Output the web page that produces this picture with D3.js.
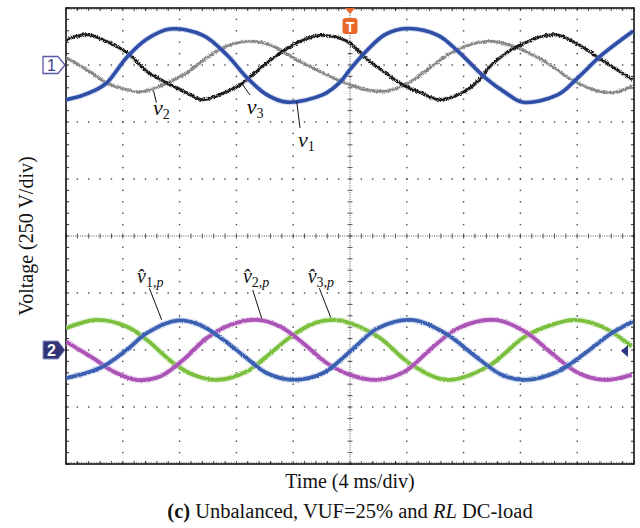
<!DOCTYPE html>
<html><head><meta charset="utf-8">
<script src="https://cdn.jsdelivr.net/npm/d3@7"></script>
<style>
html,body{margin:0;padding:0;background:#fff;}
svg{display:block;}
</style></head>
<body>
<script>
// ---- Data (time in ms, voltage in V relative to channel ground) ----
const timeDiv = 4;    // ms/div
const voltDiv = 250;  // V/div
const ch1Offset = 750;   // channel 1 ground (V on screen scale)
const ch2Offset = -500;  // channel 2 ground

const v1T = [0,0.99,1.90,2.87,4.27,5.68,7.32,9.65,11.32,12.73,14.13,15.54,18.10,19.30,20.0,21.06,22.46,23.99,26.20,27.61,29.51,30.92,32.18,34.65,36.06,37.75,39.93];
const v1V = [-152,-137,-115,-78,33,113,158,130,45,-55,-130,-163,-130,-75,-20,55,133,160,130,60,-55,-120,-163,-130,-55,45,148];

const v3T = [0,1.46,2.6,4.3,5.7,7.1,8.5,9.6,10.8,12.3,13.7,15.1,16.5,17.9,19.8,21.1,22.5,23.9,25.0,26.3,28.1,29.0,30.0,31.8,34.4,36.1,37.5,39.9];
const v3V = [111,133,111,54,-28,-79,-122,-152,-130,-86,-13,53,104,130,104,31,-35,-93,-122,-152,-115,-71,2,82,133,89,31,-64];

const v2T = [0,1.46,2.87,4.27,5.21,6.62,8.5,9.9,11.3,13.2,14.6,16.0,17.4,18.8,20.0,21.1,22.5,23.9,25.3,26.7,28.1,30.0,31.8,33.7,35.6,37.5,38.5,39.9];
const v2V = [31,-20,-79,-108,-118,-93,-35,31,82,104,82,31,-13,-57,-86,-108,-115,-86,-28,38,82,104,75,16,-64,-115,-121,-93];

const p1T = [0,2.39,4.27,5.68,7.80,9.44,11.08,12.73,14.13,16.01,18.12,20.0,21.97,24.34,26.69,29.01,30.68,32.32,34.65,36.55,38.43,39.93];
const p1V = [-123,-79,0,74,129,110,45,-36,-101,-131,-101,-7,96,132,74,-36,-109,-131,-94,-14,74,125];

const p2T = [0,1.92,3.33,4.98,6.62,8.26,9.91,11.55,13.43,15.07,16.71,18.36,20.0,21.97,23.87,25.75,27.63,30.21,32.32,34.20,36.08,37.96,39.84];
const p2V = [37,-36,-94,-131,-116,-43,52,110,132,103,30,-57,-109,-131,-94,8,96,132,81,-14,-101,-131,-109];

const p3T = [0,2.16,4.27,5.68,7.56,8.96,10.61,12.73,14.13,16.01,17.65,18.82,19.65,21.97,24.34,26.90,29.72,32.32,34.20,35.85,37.96,39.84];
const p3V = [96,132,103,45,-57,-109,-131,-94,-28,67,121,132,125,59,-65,-131,-72,59,110,132,96,15];

const xTitle = "Time (4 ms/div)";
const yTitle = "Voltage (250 V/div)";

// annotation anchors in data units (ms, V rel. channel ground)
const topLabels = [
  {sub:"2", t:6.13, v:-219, line:[[6.37,-165],[6.16,-113]]},
  {sub:"3", t:12.73, v:-215, line:[[12.96,-132],[12.37,-80]]},
  {sub:"1", t:16.34, v:-360, line:[[16.48,-276],[16.25,-162]]}
];
const botLabels = [
  {sub:"1,p", t:5.0, v:294, line:[[5.87,271],[6.74,132]]},
  {sub:"2,p", t:12.46, v:294, line:[[13.15,263],[13.78,139]]},
  {sub:"3,p", t:17.02, v:294, line:[[17.84,271],[18.64,143]]}
];

// ---- Layout ----
const W = 640, H = 528;
const L = 66, R = 634, T = 8, B = 464;
const svg = d3.select("body").append("svg").attr("width", W).attr("height", H);

const x = d3.scaleLinear().domain([0, 10*timeDiv]).range([L, R]);
const y = d3.scaleLinear().domain([-4*voltDiv, 4*voltDiv]).range([B, T]);

const defs = svg.append("defs");
const f = defs.append("filter").attr("id","noise").attr("x","-5%").attr("y","-20%").attr("width","110%").attr("height","140%");
f.append("feTurbulence").attr("type","fractalNoise").attr("baseFrequency","1.6").attr("numOctaves",1).attr("seed",3).attr("result","t");
f.append("feDisplacementMap").attr("in","SourceGraphic").attr("in2","t").attr("scale",5).attr("xChannelSelector","R").attr("yChannelSelector","G");
const f2 = defs.append("filter").attr("id","fuzz").attr("x","-5%").attr("y","-20%").attr("width","110%").attr("height","140%");
f2.append("feTurbulence").attr("type","fractalNoise").attr("baseFrequency","1.2").attr("numOctaves",1).attr("seed",7).attr("result","t");
f2.append("feDisplacementMap").attr("in","SourceGraphic").attr("in2","t").attr("scale",2.5).attr("xChannelSelector","R").attr("yChannelSelector","G");

// ---- Grid ----
const g = svg.append("g");
const minorX = d3.range(0, 40.0001, 0.8);
const minorY = d3.range(-1000, 1000.0001, 50);
const majorX = d3.range(4, 37, 4).filter(d => d !== 20);
const majorY = d3.range(-750, 751, 250).filter(d => d !== 0);
const dotCol = "#444";
majorX.forEach(t => {
  minorY.forEach(v => g.append("rect").attr("x", x(t)-0.7).attr("y", y(v)-0.7).attr("width",1.4).attr("height",1.4).attr("fill",dotCol));
});
majorY.forEach(v => {
  minorX.forEach(t => g.append("rect").attr("x", x(t)-0.7).attr("y", y(v)-0.7).attr("width",1.4).attr("height",1.4).attr("fill",dotCol));
});
// centre lines
g.append("line").attr("x1",L).attr("x2",R).attr("y1",y(0)).attr("y2",y(0)).attr("stroke","#555").attr("stroke-width",1).attr("stroke-dasharray","1,1.3");
g.append("line").attr("y1",T).attr("y2",B).attr("x1",x(20)).attr("x2",x(20)).attr("stroke","#555").attr("stroke-width",1).attr("stroke-dasharray","1,1.3");
minorX.forEach(t => g.append("line").attr("x1",x(t)).attr("x2",x(t)).attr("y1",y(0)-2.5).attr("y2",y(0)+2.5).attr("stroke","#555").attr("stroke-width",1));
minorY.forEach(v => g.append("line").attr("y1",y(v)).attr("y2",y(v)).attr("x1",x(20)-2.5).attr("x2",x(20)+2.5).attr("stroke","#555").attr("stroke-width",1));
// border ticks
minorX.forEach(t => {
  g.append("line").attr("x1",x(t)).attr("x2",x(t)).attr("y1",T).attr("y2",T+3).attr("stroke","#333");
  g.append("line").attr("x1",x(t)).attr("x2",x(t)).attr("y1",B).attr("y2",B-3).attr("stroke","#333");
});
minorY.forEach(v => {
  g.append("line").attr("y1",y(v)).attr("y2",y(v)).attr("x1",L).attr("x2",L+3).attr("stroke","#333");
  g.append("line").attr("y1",y(v)).attr("y2",y(v)).attr("x1",R).attr("x2",R-3).attr("stroke","#333");
});
// border dense dotted (scope frame)
g.append("line").attr("x1",L).attr("x2",R).attr("y1",T+1.5).attr("y2",T+1.5).attr("stroke","#888").attr("stroke-dasharray","1,1.5");
g.append("line").attr("x1",L).attr("x2",R).attr("y1",B-1.5).attr("y2",B-1.5).attr("stroke","#888").attr("stroke-dasharray","1,1.5");
g.append("rect").attr("x",L).attr("y",T).attr("width",R-L).attr("height",B-T).attr("fill","none").attr("stroke","#111").attr("stroke-width",1.6);

// ---- Traces ----
const line = (off) => d3.line().x(d => x(d[0])).y(d => y(d[1] + off)).curve(d3.curveCatmullRom.alpha(0.5));
const zip = (a, b) => a.map((t, i) => [t, b[i]]);
const clip = defs.append("clipPath").attr("id","plot").append("rect").attr("x",L).attr("y",T).attr("width",R-L).attr("height",B-T);
const tr = svg.append("g").attr("clip-path","url(#plot)");

function trace(T_, V_, off, col, w, filt, halo, haloW) {
  const d = line(off)(zip(T_, V_));
  if (halo) tr.append("path").attr("d", d).attr("fill","none").attr("stroke", halo).attr("stroke-width", w + (haloW || 2.5)).attr("opacity",0.45).attr("filter", "url(#fuzz)");
  tr.append("path").attr("d", d).attr("fill","none").attr("stroke", col).attr("stroke-width", w).attr("filter", filt ? `url(#${filt})` : null);
}
trace(v2T, v2V, ch1Offset, "#878787", 2.7, "noise", "#b8b8b8", 1.0);
trace(v3T, v3V, ch1Offset, "#1c1c1c", 2.7, "noise", "#777", 1.0);
trace(v1T, v1V, ch1Offset, "#2f4ea6", 3.6, null, "#8fa3dc", 1.8);

trace(p3T, p3V, ch2Offset, "#7abf3e", 3.8, "fuzz", "#c2e3a4");
trace(p2T, p2V, ch2Offset, "#ab52b6", 3.8, "fuzz", "#dcb0e2");
trace(p1T, p1V, ch2Offset, "#3a60b2", 3.8, "fuzz", "#a3b6e0");

// ---- Labels ----
const lab = svg.append("g").attr("font-family","'Liberation Serif','Times New Roman',serif");
topLabels.forEach(a => {
  lab.append("line").attr("x1",x(a.line[0][0])).attr("y1",y(a.line[0][1]+ch1Offset)).attr("x2",x(a.line[1][0])).attr("y2",y(a.line[1][1]+ch1Offset)).attr("stroke","#111").attr("stroke-width",1);
  const t = lab.append("text").attr("x",x(a.t)).attr("y",y(a.v+ch1Offset)).attr("font-size",22).attr("fill","#111");
  t.append("tspan").attr("font-style","italic").text("v");
  t.append("tspan").attr("font-size",14).attr("dy",4).text(a.sub);
});
botLabels.forEach(a => {
  lab.append("line").attr("x1",x(a.line[0][0])).attr("y1",y(a.line[0][1]+ch2Offset)).attr("x2",x(a.line[1][0])).attr("y2",y(a.line[1][1]+ch2Offset)).attr("stroke","#111").attr("stroke-width",1);
  const t = lab.append("text").attr("x",x(a.t)).attr("y",y(a.v+ch2Offset)).attr("font-size",20).attr("fill","#111");
  t.append("tspan").attr("font-style","italic").text("v\u0302");
  const s = t.append("tspan").attr("font-size",14).attr("dy",4);
  const parts = a.sub.split(",");
  s.text(parts[0] + ",");
  t.append("tspan").attr("font-size",14).attr("font-style","italic").text(parts[1]);
});

// ---- Markers ----
const mk = svg.append("g");
// channel 1 marker (outlined)
const c1 = y(ch1Offset);
mk.append("path").attr("d", `M${L-23},${c1-8.5} L${L-8},${c1-8.5} L${L-1},${c1} L${L-8},${c1+8.5} L${L-23},${c1+8.5} Z`).attr("fill","#fff").attr("stroke","#5a58a8").attr("stroke-width",1.3);
mk.append("text").attr("x",L-14.5).attr("y",c1+6).attr("text-anchor","middle").attr("font-family","Liberation Sans, Arial, sans-serif").attr("font-size",16).attr("fill","#3f3d92").text("1");
// channel 2 marker (filled)
const c2 = y(ch2Offset);
mk.append("path").attr("d", `M${L-23},${c2-9} L${L-8},${c2-9} L${L-1},${c2} L${L-8},${c2+9} L${L-23},${c2+9} Z`).attr("fill","#313575").attr("stroke","#8d90c8").attr("stroke-width",1);
mk.append("text").attr("x",L-14.5).attr("y",c2+6).attr("text-anchor","middle").attr("font-family","Liberation Sans, Arial, sans-serif").attr("font-weight","bold").attr("font-size",16).attr("fill","#fff").text("2");
// right marker
mk.append("path").attr("d", `M${R-13},${c2+1} L${R-6},${c2-5} L${R-6},${c2+7} Z`).attr("fill","#2d3480");
// trigger marker
const tx = x(20);
mk.append("path").attr("d", `M${tx-5},${T} L${tx+5},${T} L${tx},${T+6} Z`).attr("fill","#e8692a");
mk.append("rect").attr("x",tx-7.5).attr("y",T+10).attr("width",15).attr("height",16).attr("rx",3).attr("fill","#e8692a");
mk.append("text").attr("x",tx).attr("y",T+23.5).attr("text-anchor","middle").attr("font-family","Liberation Sans, Arial, sans-serif").attr("font-weight","bold").attr("font-size",14).attr("fill","#fff").text("T");

// ---- Titles ----
const tt = svg.append("g").attr("font-family","'Liberation Serif','Times New Roman',serif").attr("fill","#111");
tt.append("text").attr("x",(L+R)/2 + 0).attr("y",488).attr("text-anchor","middle").attr("font-size",20).text(xTitle);
tt.append("text").attr("transform",`translate(33,${(T+B)/2}) rotate(-90)`).attr("text-anchor","middle").attr("font-size",20).text(yTitle);
const cap = tt.append("text").attr("x",350).attr("y",518).attr("text-anchor","middle").attr("font-size",20.5);
cap.append("tspan").attr("font-weight","bold").text("(c)");
cap.append("tspan").text(" Unbalanced, VUF=25% and ");
cap.append("tspan").attr("font-style","italic").text("RL");
cap.append("tspan").text(" DC-load");
</script>
</body></html>
